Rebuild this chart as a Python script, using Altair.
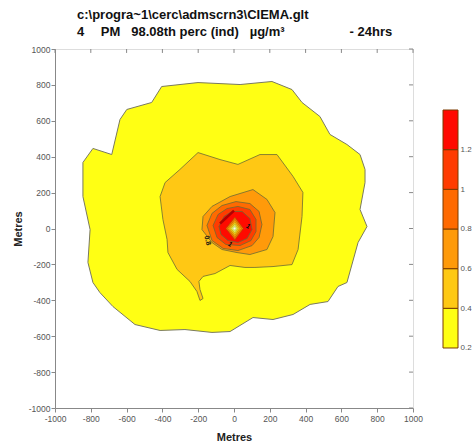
import altair as alt
import pandas as pd

FONT = "Liberation Sans"
NB = "\u00a0"
TH = "\u2006"

title_line1 = "c:\\progra~1\\cerc\\admscrn3\\CIEMA.glt"
title_line2 = ("4" + NB * 4 + TH + "PM" + NB * 3 + "98.08th perc (ind)" + NB * 3
               + "µg/m³" + NB * 18 + "- 24hrs")

axis_ticks = [-1000, -800, -600, -400, -200, 0, 200, 400, 600, 800, 1000]

# contour polygons (metres)
c02_x = [-637, -599, -460, -404, -201, 34, 212, 324, 380, 480, 536, 631, 704, 732,
         732, 704, 743, 693, 631, 581, 525, 425, 330, 218, 106, -22, -123, -274,
         -413, -553, -676, -749, -788, -816, -804, -844, -844, -788, -683]
c02_y = [607, 663, 702, 791, 813, 802, 819, 774, 702, 624, 524, 468, 412, 329,
         256, 106, 11, -78, -301, -323, -407, -423, -479, -507, -496, -574, -579,
         -563, -568, -535, -435, -357, -301, -189, -6, 178, 368, 446, 412]

c04_x = [-397, -374, -369, -318, -246, -207, -190, -173, -190, -196, -173, -106,
         -22, 61, 117, 218, 324, 358, 380, 385, 330, 240, 145, 22, -78, -201,
         -302, -385, -413]
c04_y = [50, -61, -134, -228, -295, -351, -401, -390, -340, -295, -267, -251,
         -206, -217, -217, -212, -201, -117, 67, 201, 290, 412, 412, 357, 384,
         423, 329, 256, 178]

c06_x = [-173, -123, -22, 106, 184, 229, 218, 184, 89, 17, -67, -123, -179]
c06_y = [67, 123, 178, 217, 162, 89, -45, -117, -145, -134, -117, -78, -6]

c08_x = [-151, -123, -67, 11, 89, 140, 156, 140, 101, 22, -61, -123]
c08_y = [17, 84, 128, 150, 139, 95, 22, -50, -95, -123, -111, -67]

c10_x = [-117, -89, -39, 22, 89, 123, 123, 95, 34, -45, -95]
c10_y = [17, 78, 111, 123, 106, 50, -17, -67, -95, -89, -50]

c12_x = [-84, -56, -11, 45, 89, 101, 73, 22, -34, -73]
c12_y = [11, 67, 95, 95, 56, -6, -56, -78, -67, -33]

# inner peak rings (diamonds)
p1_x = [-45, 5, 52, 5];   p1_y = [0, 62, 0, -62]
p2_x = [-36, 5, 42, 5];   p2_y = [0, 50, 0, -50]
p3_x = [-27, 5, 32, 5];   p3_y = [0, 38, 0, -38]
p4_x = [-18, 5, 22, 5];   p4_y = [0, 26, 0, -26]
p5_x = [-10, 5, 13, 5];   p5_y = [0, 15, 0, -15]
p6_x = [-4, 5, 9, 5];     p6_y = [0, 6, 0, -6]

fills = ["#FFFF14", "#FFC814", "#FF9A0A", "#FF6A00", "#FF3C00", "#FF0A00"]
peak_fills = ["#FF6A00", "#FF9A0A", "#FFC814", "#F4F040", "#EEF6A8", "#FFFFFF"]

# colour bar
band_lo = [0.2, 0.4, 0.6, 0.8, 1.0, 1.2]
band_hi = [0.4, 0.6, 0.8, 1.0, 1.2, 1.4]
band_labels = [0.2, 0.4, 0.6, 0.8, 1.0, 1.2]

# contour labels
lab_text = ["0.8", "1", "1"]
lab_x = [-148, 78, -22]
lab_y = [-67, 11, -89]
lab_angle = [75, 35, 35]
seg_x = [-78]; seg_x2 = [0]; seg_y = [28]; seg_y2 = [100]

XS = alt.Scale(domain=[-1000, 1000], nice=False, zero=False)
YS = alt.Scale(domain=[-1000, 1000], nice=False, zero=False)

axis_common = dict(values=axis_ticks, grid=False, tickSize=4, tickColor="#888",
                   domainColor="#888", labelFontSize=8.5, labelColor="#555",
                   labelFont=FONT, labelFlush=False, labelOverlap=False,
                   labelExpr="'' + datum.value",
                   title="Metres", titleFont=FONT, titleFontSize=11,
                   titleFontWeight="bold", titleColor="#222")

x_axis = alt.Axis(labelPadding=2, titlePadding=9, **axis_common)
y_axis = alt.Axis(labelPadding=1, titlePadding=5, **axis_common)


def poly(xs, ys, fill, stroke="#6b6b35", sw=0.8):
    df = pd.DataFrame({"x": xs, "y": ys, "i": list(range(len(xs)))})
    return alt.Chart(df).mark_line(
        fill=fill, stroke=stroke, strokeWidth=sw, interpolate="linear-closed"
    ).encode(
        x=alt.X("x:Q", scale=XS, axis=x_axis),
        y=alt.Y("y:Q", scale=YS, axis=y_axis),
        order="i:Q",
    )


layers = [
    poly(c02_x, c02_y, fills[0], stroke="#7a7a60", sw=1),
    poly(c04_x, c04_y, fills[1]),
    poly(c06_x, c06_y, fills[2]),
    poly(c08_x, c08_y, fills[3]),
    poly(c10_x, c10_y, fills[4]),
    poly(c12_x, c12_y, fills[5]),
    poly(p1_x, p1_y, peak_fills[0], stroke="#a05000", sw=0.6),
    poly(p2_x, p2_y, peak_fills[1], stroke="#b07000", sw=0.6),
    poly(p3_x, p3_y, peak_fills[2], stroke="#b09000", sw=0.6),
    poly(p4_x, p4_y, peak_fills[3], stroke="#a0a830", sw=0.6),
    poly(p5_x, p5_y, peak_fills[4], stroke="#b0c060", sw=0.6),
    poly(p6_x, p6_y, peak_fills[5], stroke="#d0e0a0", sw=0.5),
]

# contour labels
lab_df = pd.DataFrame({"t": lab_text, "x": lab_x, "y": lab_y, "a": lab_angle})
labels = alt.Chart(lab_df).mark_text(font=FONT, fontSize=7, fontWeight="bold",
                                     color="#111").encode(
    x=alt.X("x:Q", scale=XS, axis=x_axis), y=alt.Y("y:Q", scale=YS, axis=y_axis),
    text="t:N", angle=alt.Angle("a:Q", scale=None))
seg = alt.Chart(pd.DataFrame({"x": seg_x, "x2": seg_x2, "y": seg_y, "y2": seg_y2})
                ).mark_rule(color="#b00000", strokeWidth=2.5).encode(
    x=alt.X("x:Q", scale=XS, axis=x_axis), x2="x2:Q",
    y=alt.Y("y:Q", scale=YS, axis=y_axis), y2="y2:Q")

# mirrored ticks on top and right
tk = pd.DataFrame({"v": axis_ticks, "top": [1000] * 11, "in": [978] * 11})
top_ticks = alt.Chart(tk).mark_rule(color="#888", strokeWidth=1).encode(
    x=alt.X("v:Q", scale=XS, axis=x_axis),
    y=alt.Y("top:Q", scale=YS, axis=y_axis), y2="in:Q")
right_ticks = alt.Chart(tk).mark_rule(color="#888", strokeWidth=1).encode(
    y=alt.Y("v:Q", scale=YS, axis=y_axis),
    x=alt.X("top:Q", scale=XS, axis=x_axis), x2="in:Q")

main = alt.layer(*layers, seg, labels, top_ticks, right_ticks)

cb_df = pd.DataFrame({"lo": band_lo, "hi": band_hi, "band": [str(v) for v in band_lo]})
colorbar = alt.Chart(cb_df).mark_rect(stroke="#7a3b00", strokeWidth=1).encode(
    x=alt.value(388), x2=alt.value(403),
    y=alt.Y("lo:Q", scale=alt.Scale(domain=[-0.1026, 1.7076], nice=False, zero=False),
            axis=alt.Axis(orient="right", offset=45, values=band_labels, domain=False,
                          ticks=False, grid=False, labelFontSize=8, labelColor="#555",
                          labelFont=FONT, labelPadding=2, format="~g", title=None,
                          labelOverlap=False, labelFlush=False)),
    y2="hi:Q",
    fill=alt.Fill("band:N", scale=alt.Scale(domain=[str(v) for v in band_lo],
                                            range=fills), legend=None),
)

chart = alt.layer(main, colorbar).resolve_scale(y="independent", fill="independent").properties(
    width=358, height=359,
    title=alt.TitleParams(text=[title_line1, title_line2], anchor="start", frame="group",
                          dx=22, font=FONT, fontSize=13, fontWeight="bold", color="#111",
                          lineHeight=17, offset=6),
    autosize=alt.AutoSizeParams(type="none"),
    padding={"left": 55, "top": 49, "right": 59, "bottom": 36},
).configure_view(stroke="#888", strokeWidth=1).configure(background="white")

chart.save("out.html", embed_options={"renderer": "svg", "actions": False})
